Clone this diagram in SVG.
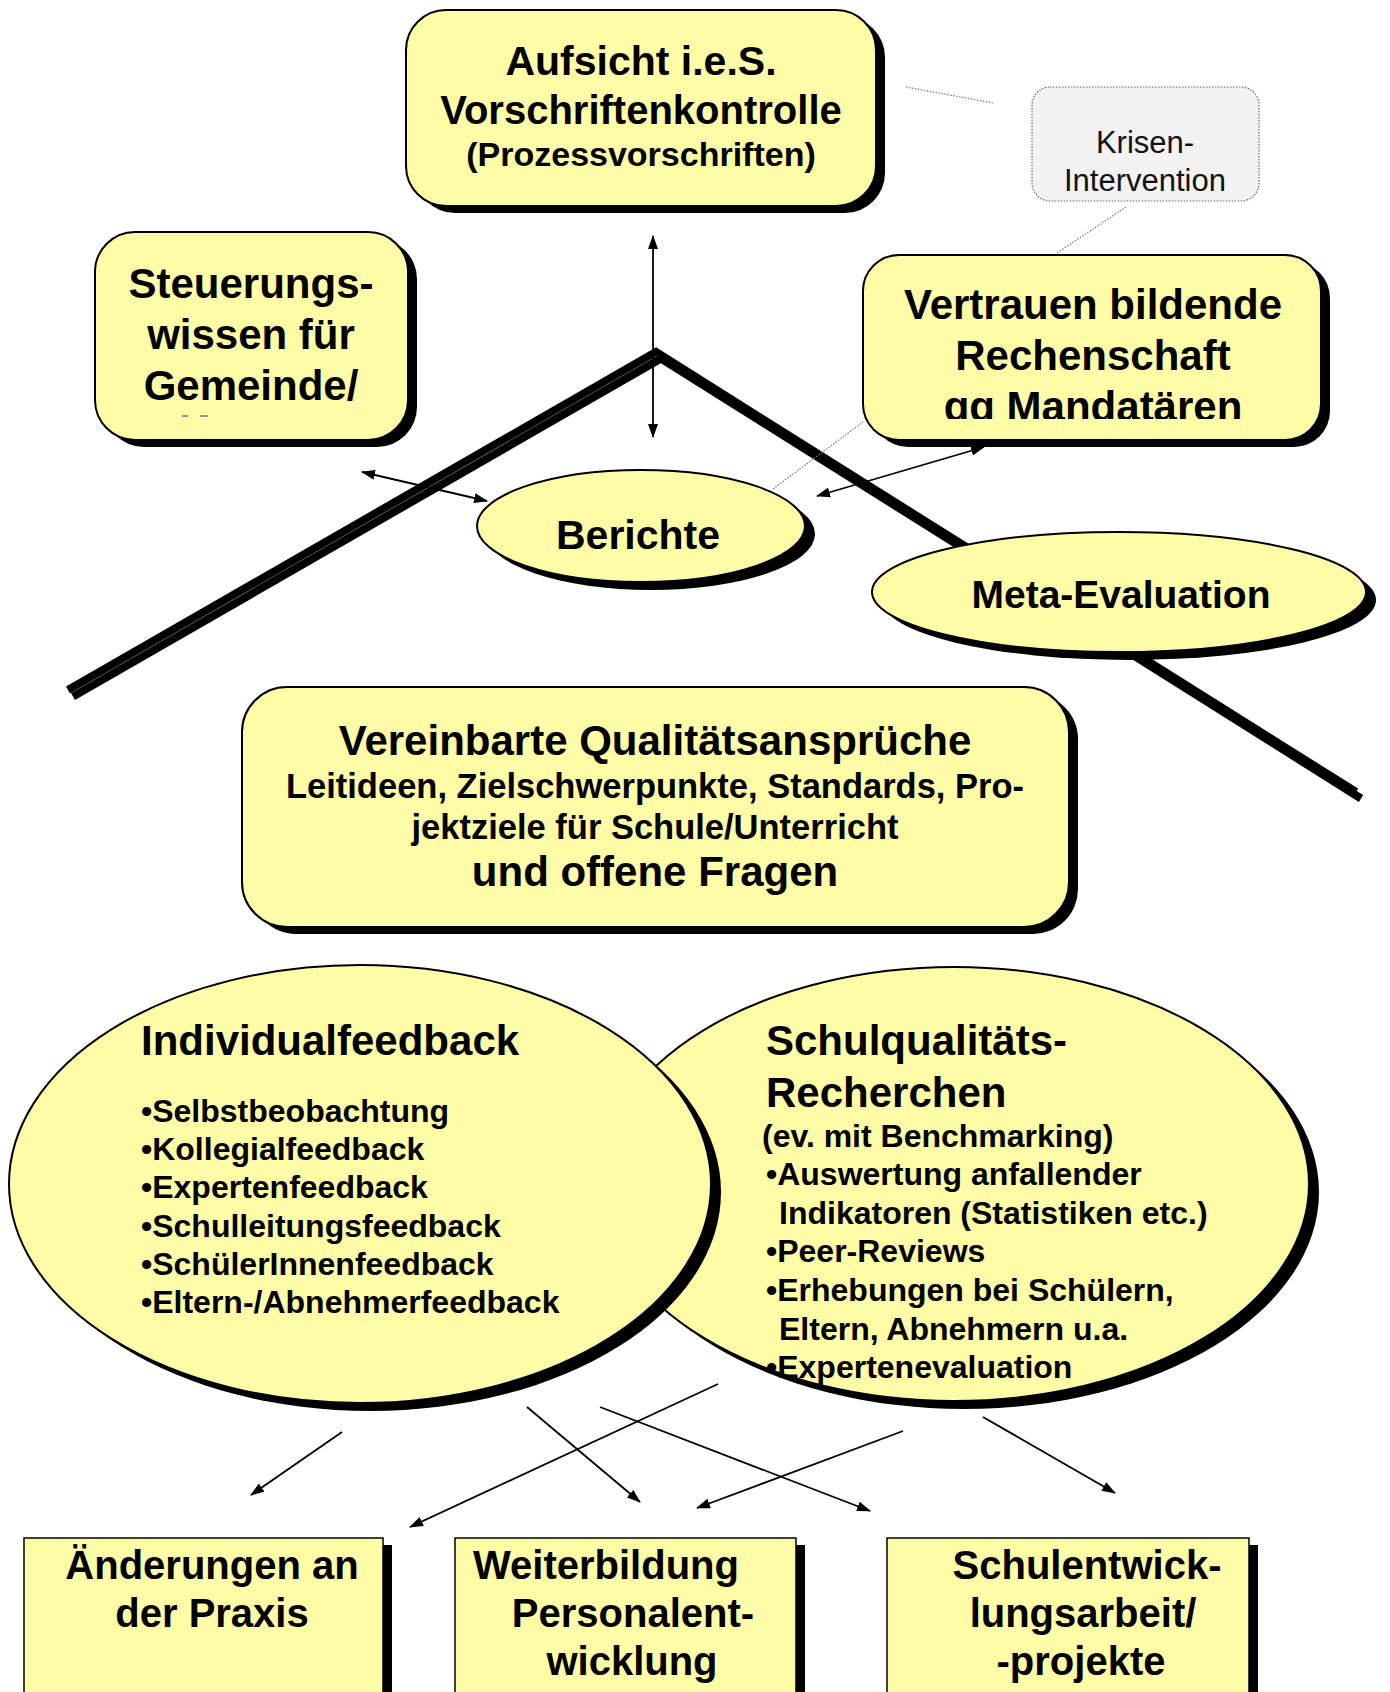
<svg xmlns="http://www.w3.org/2000/svg" width="1390" height="1692" viewBox="0 0 1390 1692">
<style>
.box{fill:#fffca8;stroke:#000;stroke-width:2}
.sh{fill:#000}
.t{font-family:"Liberation Sans",Arial,sans-serif;font-weight:bold;fill:#000}
.r{font-family:"Liberation Sans",Arial,sans-serif;font-weight:normal;fill:#111}
.c{text-anchor:middle}
.arr{stroke:#000;stroke-width:1.8;fill:none}
.dot{stroke:#777;stroke-width:1.2;stroke-dasharray:1.5 1.5;fill:none}
.tent{stroke:#000;stroke-width:8;fill:none;stroke-linejoin:miter}
</style>
<defs>
<marker id="ah" viewBox="0 0 14 10" refX="13" refY="5" markerWidth="14" markerHeight="10" markerUnits="userSpaceOnUse" orient="auto-start-reverse"><path d="M0,0 L14,5 L0,10 z" fill="#000"/></marker>
<clipPath id="clipV"><rect x="863" y="255" width="458" height="164"/></clipPath>
</defs>
<rect width="1390" height="1692" fill="#fff"/>

<g id="tent">
<polyline class="tent" points="73,696.5 661,358.5 1361,798.5"/>
<polyline class="tent" points="68,690 656,352 1356,792"/>
<line x1="71" y1="693" x2="658" y2="355" stroke="#555" stroke-width="0.6"/>
</g>

<g id="connectors">
<line class="arr" x1="653" y1="236" x2="653" y2="437" marker-start="url(#ah)" marker-end="url(#ah)"/>
<line class="arr" x1="362" y1="472" x2="487" y2="501" marker-start="url(#ah)" marker-end="url(#ah)"/>
<line class="arr" x1="817" y1="496" x2="984" y2="447" marker-start="url(#ah)" marker-end="url(#ah)"/>
<line class="dot" x1="906" y1="87" x2="993" y2="103"/>
<line class="dot" x1="1126" y1="207" x2="1057" y2="253"/>
<line class="dot" x1="773" y1="489" x2="863" y2="422"/>
<line class="arr" x1="342" y1="1432" x2="251" y2="1495" marker-end="url(#ah)"/>
<line class="arr" x1="527" y1="1407" x2="640" y2="1502" marker-end="url(#ah)"/>
<line class="arr" x1="718" y1="1384" x2="410" y2="1527" marker-end="url(#ah)"/>
<line class="arr" x1="600" y1="1407" x2="870" y2="1511" marker-end="url(#ah)"/>
<line class="arr" x1="903" y1="1431" x2="697" y2="1508" marker-end="url(#ah)"/>
<line class="arr" x1="983" y1="1417" x2="1115" y2="1493" marker-end="url(#ah)"/>
</g>

<g id="aufsicht">
<rect class="sh" x="415" y="17" width="470" height="196" rx="40"/>
<rect class="box" x="406" y="10" width="470" height="196" rx="40"/>
<text class="t c" x="641" y="75" font-size="41">Aufsicht i.e.S.</text>
<text class="t c" x="641" y="124" font-size="40">Vorschriftenkontrolle</text>
<text class="t c" x="641" y="166" font-size="34">(Prozessvorschriften)</text>
</g>

<g id="krisen">
<rect x="1032" y="87" width="227" height="114" rx="18" fill="#f2f2f2" stroke="#666" stroke-width="1.2" stroke-dasharray="1.5 1.5"/>
<text class="r c" x="1145" y="153" font-size="31">Krisen-</text>
<text class="r c" x="1145" y="191" font-size="31">Intervention</text>
</g>

<g id="steuerung">
<rect class="sh" x="104" y="239" width="313" height="208" rx="40"/>
<rect class="box" x="95" y="232" width="313" height="208" rx="40"/>
<text class="t c" x="251" y="298" font-size="42">Steuerungs-</text>
<text class="t c" x="251" y="349" font-size="42">wissen für</text>
<text class="t c" x="251" y="400" font-size="42">Gemeinde/</text>
<rect x="182" y="415" width="6" height="2" fill="#999"/>
<rect x="200" y="415" width="8" height="2" fill="#999"/>
</g>

<g id="vertrauen">
<rect class="sh" x="872" y="262" width="458" height="185" rx="36"/>
<rect class="box" x="863" y="255" width="458" height="185" rx="36"/>
<g clip-path="url(#clipV)">
<text class="t c" x="1093" y="319" font-size="42">Vertrauen bildende</text>
<text class="t c" x="1093" y="370" font-size="42">Rechenschaft</text>
<text class="t c" x="1093" y="421" font-size="42">gg Mandatären</text>
</g>
</g>

<g id="berichte">
<ellipse class="sh" cx="651" cy="534" rx="164" ry="56"/>
<ellipse class="box" cx="641" cy="526" rx="164" ry="56" stroke-width="1.6"/>
<text class="t c" x="638" y="549" font-size="41">Berichte</text>
</g>

<g id="meta">
<ellipse class="sh" cx="1129" cy="600" rx="247" ry="60"/>
<ellipse class="box" cx="1119" cy="592" rx="247" ry="60" stroke-width="1.6"/>
<text class="t c" x="1121" y="608" font-size="39">Meta-Evaluation</text>
</g>

<g id="vereinbart">
<rect class="sh" x="251" y="694" width="827" height="240" rx="45"/>
<rect class="box" x="242" y="687" width="827" height="240" rx="45"/>
<text class="t c" x="655" y="755" font-size="42">Vereinbarte Qualitätsansprüche</text>
<text class="t c" x="655" y="798" font-size="34.5">Leitideen, Zielschwerpunkte, Standards, Pro-</text>
<text class="t c" x="655" y="839" font-size="34.5">jektziele für Schule/Unterricht</text>
<text class="t c" x="655" y="886" font-size="42">und offene Fragen</text>
</g>

<g id="schulqualitaet">
<ellipse class="sh" cx="964" cy="1192" rx="355" ry="217"/>
<ellipse class="box" cx="954" cy="1184" rx="355" ry="217" stroke-width="1.6"/>
<text class="t" x="766" y="1055" font-size="42">Schulqualitäts-</text>
<text class="t" x="766" y="1107" font-size="42">Recherchen</text>
<text class="t" x="762" y="1147" font-size="32">(ev. mit Benchmarking)</text>
<text class="t" x="766" y="1185" font-size="32">•Auswertung anfallender</text>
<text class="t" x="779" y="1224" font-size="32">Indikatoren (Statistiken etc.)</text>
<text class="t" x="766" y="1262" font-size="32">•Peer-Reviews</text>
<text class="t" x="766" y="1301" font-size="32">•Erhebungen bei Schülern,</text>
<text class="t" x="779" y="1340" font-size="32">Eltern, Abnehmern u.a.</text>
<text class="t" x="766" y="1378" font-size="32">•Expertenevaluation</text>
</g>

<g id="individual">
<ellipse class="sh" cx="370" cy="1192" rx="351" ry="219"/>
<ellipse class="box" cx="360" cy="1184" rx="351" ry="219" stroke-width="1.6"/>
<text class="t" x="141" y="1055" font-size="42">Individualfeedback</text>
<text class="t" x="141" y="1122" font-size="32">•Selbstbeobachtung</text>
<text class="t" x="141" y="1160" font-size="32">•Kollegialfeedback</text>
<text class="t" x="141" y="1198" font-size="32">•Expertenfeedback</text>
<text class="t" x="141" y="1237" font-size="32">•Schulleitungsfeedback</text>
<text class="t" x="141" y="1275" font-size="32">•SchülerInnenfeedback</text>
<text class="t" x="141" y="1313" font-size="32">•Eltern-/Abnehmerfeedback</text>
</g>

<g id="praxis">
<rect class="sh" x="33" y="1545" width="359" height="160"/>
<rect x="24" y="1538" width="359" height="160" fill="#fffca8" stroke="#000" stroke-width="1.5"/>
<text class="t c" x="212" y="1579" font-size="40">Änderungen an</text>
<text class="t c" x="212" y="1627" font-size="40">der Praxis</text>
</g>

<g id="weiterbildung">
<rect class="sh" x="464" y="1545" width="341" height="160"/>
<rect x="455" y="1538" width="341" height="160" fill="#fffca8" stroke="#000" stroke-width="1.5"/>
<text class="t c" x="606" y="1579" font-size="40">Weiterbildung</text>
<text class="t c" x="633" y="1627" font-size="40">Personalent-</text>
<text class="t c" x="632" y="1675" font-size="40">wicklung</text>
</g>

<g id="schulentwicklung">
<rect class="sh" x="896" y="1545" width="362" height="160"/>
<rect x="887" y="1538" width="362" height="160" fill="#fffca8" stroke="#000" stroke-width="1.5"/>
<text class="t c" x="1087" y="1579" font-size="40">Schulentwick-</text>
<text class="t c" x="1083" y="1627" font-size="40">lungsarbeit/</text>
<text class="t c" x="1081" y="1675" font-size="40">-projekte</text>
</g>
</svg>
